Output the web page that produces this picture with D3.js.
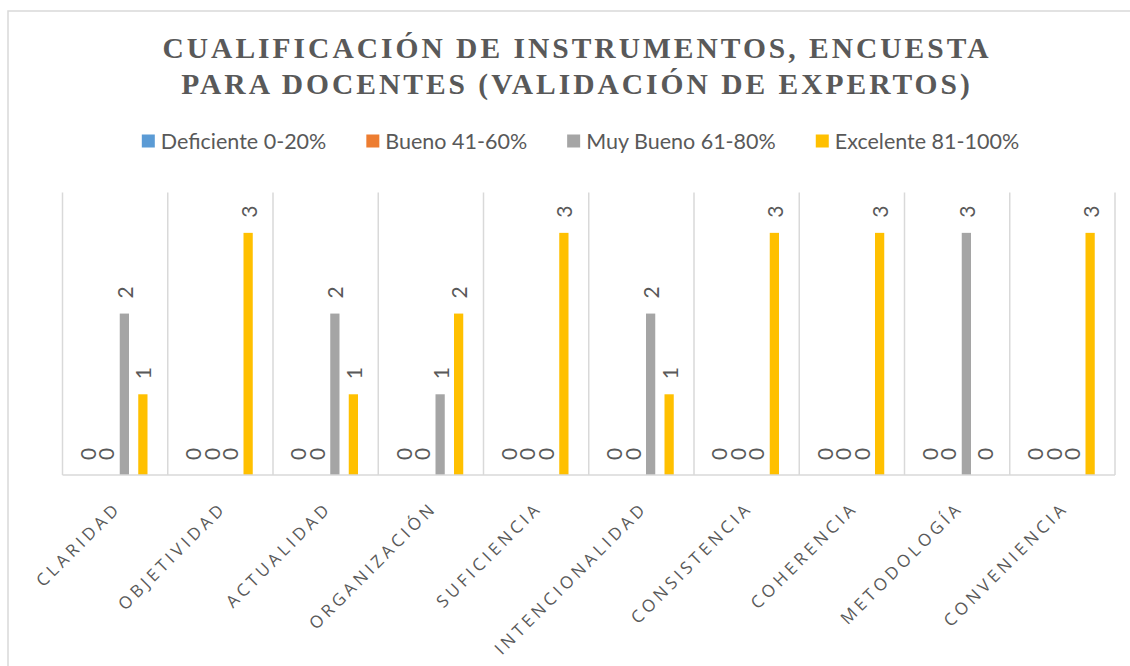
<!DOCTYPE html>
<html>
<head>
<meta charset="utf-8">
<script src="https://cdn.jsdelivr.net/npm/d3@7"></script>
<style>
  html, body { margin: 0; padding: 0; background: #fff; }
  svg { display: block; }
</style>
</head>
<body>
<svg id="chart" width="1130" height="666"></svg>
<script>
// Criteria evaluated by the experts
const categories = ["CLARIDAD", "OBJETIVIDAD", "ACTUALIDAD", "ORGANIZACIÓN", "SUFICIENCIA",
  "INTENCIONALIDAD", "CONSISTENCIA", "COHERENCIA", "METODOLOGÍA", "CONVENIENCIA"];

// Rating bands (legend entries)
const seriesNames = ["Deficiente 0-20%", "Bueno 41-60%", "Muy Bueno 61-80%", "Excelente 81-100%"];
const seriesColors = ["#5B9BD5", "#ED7D31", "#A5A5A5", "#FFC000"];

// Number of experts per band, one value per criterion
const deficiente = [0, 0, 0, 0, 0, 0, 0, 0, 0, 0];
const bueno      = [0, 0, 0, 0, 0, 0, 0, 0, 0, 0];
const muyBueno   = [2, 0, 2, 1, 0, 2, 0, 0, 3, 0];
const excelente  = [1, 3, 1, 2, 3, 1, 3, 3, 0, 3];

const titleLines = ["CUALIFICACIÓN DE INSTRUMENTOS, ENCUESTA", "PARA DOCENTES (VALIDACIÓN DE EXPERTOS)"];

const seriesValues = [deficiente, bueno, muyBueno, excelente];

const svg = d3.select("#chart");
const textColor = "#595959";
const gridColor = "#D9D9D9";
const labelFont = "Lato, 'Open Sans', sans-serif";

// Chart-area frame
svg.append("path")
  .attr("d", "M8,666 L8,11 L1130,11")
  .attr("fill", "none")
  .attr("stroke", gridColor)
  .attr("stroke-width", 1.5);

// Title
const title = svg.append("g");
titleLines.forEach((line, i) => {
  title.append("text")
    .attr("x", 577)
    .attr("y", 58 + i * 35.5)
    .attr("text-anchor", "middle")
    .attr("font-family", "'Liberation Serif', 'Times New Roman', serif")
    .attr("font-weight", "bold")
    .attr("font-size", 29.5)
    .attr("letter-spacing", 3)
    .attr("fill", textColor)
    .text(line);
});

// Legend, centred as a whole
const legend = svg.append("g");
const legendItems = legend.selectAll("g.item")
  .data(seriesNames)
  .join("g")
  .attr("class", "item");
legendItems.append("rect")
  .attr("width", 13)
  .attr("height", 13)
  .attr("y", 134.5)
  .attr("fill", (d, i) => seriesColors[i]);
legendItems.append("text")
  .attr("x", 19)
  .attr("y", 148.5)
  .attr("font-family", labelFont)
  .attr("font-size", 21.5)
  .attr("fill", textColor)
  .text(d => d);
let lx = 0;
const offsets = [];
legendItems.each(function () {
  const w = d3.select(this).select("text").node().getComputedTextLength();
  offsets.push(lx);
  lx += 19 + w + 40;
});
const legendWidth = lx - 40;
const legendStart = 580.5 - legendWidth / 2;
legendItems.attr("transform", (d, i) => `translate(${legendStart + offsets[i]},0)`);

// Scales
const plotLeft = 62.5, plotRight = 1115, plotTop = 192.5, baseY = 475;
const x0 = d3.scaleBand().domain(categories).range([plotLeft, plotRight]).padding(0);
const half = 37;
const x1 = d3.scaleBand().domain(d3.range(seriesNames.length))
  .range([x0.bandwidth() / 2 - half, x0.bandwidth() / 2 + half])
  .paddingInner(0.5).paddingOuter(0.25);
const y = d3.scaleLinear().domain([0, 3.5]).range([baseY, plotTop]);

// Vertical gridlines at category boundaries
const bounds = categories.map(c => x0(c)).concat([plotRight]);
svg.append("g").selectAll("line")
  .data(bounds)
  .join("line")
  .attr("x1", d => d).attr("x2", d => d)
  .attr("y1", plotTop).attr("y2", baseY)
  .attr("stroke", gridColor)
  .attr("stroke-width", 1.5);

// Bars
const groups = svg.append("g").selectAll("g.cat")
  .data(categories)
  .join("g")
  .attr("class", "cat")
  .attr("transform", d => `translate(${x0(d)},0)`);

const cells = groups.selectAll("g.cell")
  .data((c, ci) => seriesValues.map((vals, si) => ({ si, v: vals[ci] })))
  .join("g")
  .attr("class", "cell");

cells.append("rect")
  .attr("x", d => x1(d.si))
  .attr("width", x1.bandwidth())
  .attr("y", d => y(d.v))
  .attr("height", d => y(0) - y(d.v))
  .attr("fill", d => seriesColors[d.si]);

// Value labels, rotated to read upward
cells.append("text")
  .attr("transform", d => `translate(${x1(d.si) + x1.bandwidth() / 2},${y(d.v) - 15}) rotate(-90)`)
  .attr("text-anchor", "start")
  .attr("dominant-baseline", "central")
  .attr("font-family", labelFont)
  .attr("font-size", 21)
  .attr("fill", textColor)
  .text(d => d.v);

// Category axis line
svg.append("line")
  .attr("x1", plotLeft).attr("x2", plotRight)
  .attr("y1", baseY).attr("y2", baseY)
  .attr("stroke", gridColor)
  .attr("stroke-width", 1.5);

// Category labels at 45 degrees
const xAxis = d3.axisBottom(x0).tickSize(0).tickPadding(0);
const axisG = svg.append("g")
  .attr("transform", `translate(0,${baseY})`)
  .call(xAxis);
axisG.select(".domain").remove();
axisG.selectAll(".tick text")
  .attr("font-family", "'Open Sans', sans-serif")
  .attr("font-size", 17)
  .attr("letter-spacing", 3.8)
  .attr("fill", textColor)
  .attr("text-anchor", "end")
  .attr("dy", null)
  .attr("y", 0)
  .attr("transform", "translate(7,34) rotate(-45)");
</script>
</body>
</html>
